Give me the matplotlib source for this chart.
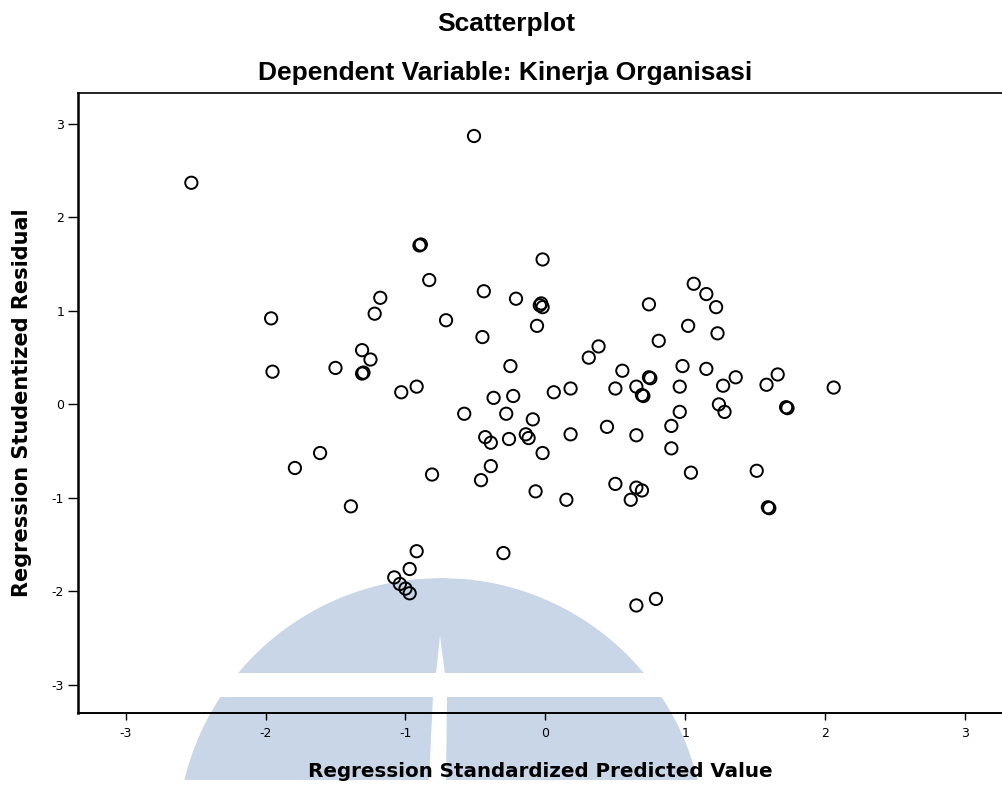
"""SPSS style residual scatterplot recreation."""

import matplotlib

matplotlib.use("Agg")
import matplotlib.pyplot as plt
import numpy as np
from matplotlib.patches import Polygon

# Regression Standardized Predicted Value
pred_x = [
    -2.53, -0.51, -0.90, -0.89, -0.02, -0.83, -1.18, -1.22, -0.71, -1.96,
    -1.95, -1.50, -1.31, -1.25, -1.31, -1.30, -1.03, -0.92, -0.44, -0.21,
    -0.04, -0.03, -0.02, -0.06, -0.45, -0.25, -0.23, -0.37, 0.06, 0.18,
    0.31, 0.38, -0.58, -0.28, -0.09, -0.43, -0.39, -0.26, -0.14, -0.12,
    -0.02, 0.18, -0.39, -0.46, -0.81, -0.07, 0.15, -1.61, -1.79, -1.39,
    -0.92, -0.97, -1.08, -1.04, -1.00, -0.97, -0.30, 0.65, 0.79,
    1.06, 1.15, 1.22, 0.74, 1.02, 1.23, 0.81, 0.55, 0.74, 0.75,
    0.98, 1.15, 0.50, 0.65, 0.69, 0.70, 0.96, 1.27, 1.36, 1.58,
    1.66, 2.06, 1.24, 1.28, 1.72, 1.73, 0.96, 0.90, 0.44, 0.65,
    0.90, 1.04, 0.50, 0.65, 0.69, 0.61, 1.51, 1.59, 1.60,
]

# Regression Studentized Residual
resid_y = [
    2.37, 2.87, 1.70, 1.71, 1.55, 1.33, 1.14, 0.97, 0.90, 0.92,
    0.35, 0.39, 0.58, 0.48, 0.33, 0.34, 0.13, 0.19, 1.21, 1.13,
    1.06, 1.08, 1.04, 0.84, 0.72, 0.41, 0.09, 0.07, 0.13, 0.17,
    0.50, 0.62, -0.10, -0.10, -0.16, -0.35, -0.41, -0.37, -0.32, -0.36,
    -0.52, -0.32, -0.66, -0.81, -0.75, -0.93, -1.02, -0.52, -0.68, -1.09,
    -1.57, -1.76, -1.85, -1.92, -1.97, -2.02, -1.59, -2.15, -2.08,
    1.29, 1.18, 1.04, 1.07, 0.84, 0.76, 0.68, 0.36, 0.29, 0.28,
    0.41, 0.38, 0.17, 0.19, 0.10, 0.09, 0.19, 0.20, 0.29, 0.21,
    0.32, 0.18, -0.00, -0.08, -0.03, -0.04, -0.08, -0.23, -0.24, -0.33,
    -0.47, -0.73, -0.85, -0.89, -0.92, -1.02, -0.71, -1.10, -1.11,
]

ticks = [-3, -2, -1, 0, 1, 2, 3]
tick_labels = ["-3", "-2", "-1", "0", "1", "2", "3"]

W, H = 1003, 788
fig = plt.figure(figsize=(W / 100, H / 100), dpi=100)

# light blue watermark behind the plot (pixel coordinates)
bg = fig.add_axes([0, 0, 1, 1], zorder=0)
bg.set_xlim(0, W)
bg.set_ylim(H, 0)
bg.axis("off")
wm_color = "#c8d6e8"
cx, cy, r = 441, 842, 264


def circle_slice(y_top, y_bot):
    ys = np.linspace(y_top, y_bot, 80)
    half = np.sqrt(np.clip(r ** 2 - (cy - ys) ** 2, 0, None))
    left = np.column_stack([cx - half, ys])
    right = np.column_stack([cx + half, ys])[::-1]
    return np.vstack([left, right])


bg.add_patch(Polygon(circle_slice(cy - r, 673), closed=True, fc=wm_color, ec="none"))
bg.add_patch(Polygon(circle_slice(697, 780), closed=True, fc=wm_color, ec="none"))
bg.add_patch(Polygon([[440, 636], [436, 674], [445, 674]], closed=True, fc="white", ec="none"))
bg.add_patch(Polygon([[433, 696], [447, 696], [446, 781], [429, 781]], closed=True, fc="white", ec="none"))

ax = fig.add_axes([78 / W, 1 - 713 / H, 1 - 78 / W, (713 - 93) / H], zorder=1)
ax.set_facecolor("none")
ax.scatter(pred_x, resid_y, s=78, facecolors="none", edgecolors="black", linewidths=1.4)

ax.set_xlim(-3.34, 3.27)
ax.set_ylim(-3.30, 3.33)
ax.set_xticks(ticks)
ax.set_xticklabels(tick_labels)
ax.set_yticks(ticks)
ax.set_yticklabels(tick_labels)
ax.tick_params(axis="both", direction="out", labelsize=9, width=1.0, color="black")
ax.tick_params(axis="y", length=7, pad=3)
ax.tick_params(axis="x", length=5, pad=5)
ax.spines["right"].set_visible(False)
ax.spines["left"].set_linewidth(1.8)
ax.spines["bottom"].set_linewidth(1.4)
ax.spines["top"].set_linewidth(1.2)

ax.set_xlabel("Regression Standardized Predicted Value", fontsize=14.3,
              fontweight="bold", family="DejaVu Sans", labelpad=16)
ax.set_ylabel("Regression Studentized Residual", fontsize=15,
              fontweight="bold", family="DejaVu Sans", labelpad=14)

fig.text(506 / W, 1 - 24 / H, "Scatterplot", ha="center", va="center",
         fontsize=19, fontweight="bold", family="Liberation Sans")
fig.text(505 / W, 1 - 73 / H, "Dependent Variable: Kinerja Organisasi", ha="center",
         va="center", fontsize=19, fontweight="bold", family="Liberation Sans")

fig.savefig("out.png", dpi=100)
plt.close(fig)
